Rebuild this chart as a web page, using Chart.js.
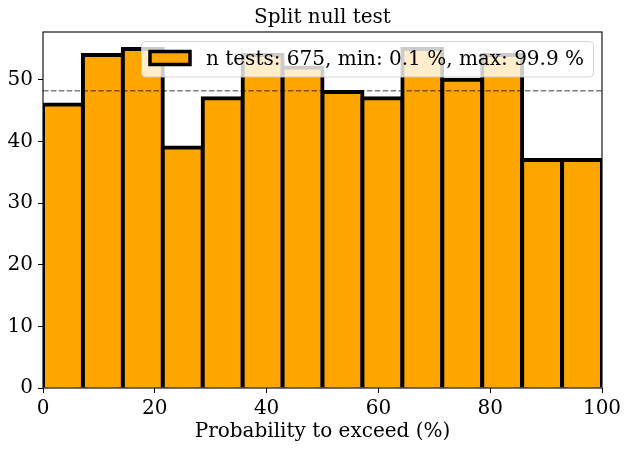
<!DOCTYPE html>
<html>
<head>
<meta charset="utf-8">
<script src="https://cdn.jsdelivr.net/npm/chart.js@4.4.1/dist/chart.umd.min.js"></script>
<style>
  html, body { margin: 0; padding: 0; background: #fff; }
  #wrap { width: 631px; height: 450px; }
</style>
</head>
<body>
<div id="wrap"><canvas id="hist"></canvas></div>
<script>
// histogram of probability-to-exceed values, 14 equal bins on [0, 100]
const binStart = 0;
const binEnd = 100;
const counts = [46, 54, 55, 39, 47, 54, 52, 48, 47, 55, 50, 54, 37, 37];
const xTicks = [0, 20, 40, 60, 80, 100];
const yTicks = [0, 10, 20, 30, 40, 50];
const legendLabel = 'n tests: 675, min: 0.1 %, max: 99.9 %';

const binWidth = (binEnd - binStart) / counts.length;
const points = counts.map((c, i) => ({ x: binStart + (i + 0.5) * binWidth, y: c }));
const meanCount = counts.reduce((a, b) => a + b, 0) / counts.length;
const yMax = Math.max(...counts) * 1.05;

const serif = "'DejaVu Serif', 'Liberation Serif', serif";

// frame, mean line and legend drawn on top of the bars
const overlay = {
  id: 'overlay',
  afterDatasetsDraw(chart) {
    const ctx = chart.ctx;
    const area = chart.chartArea;
    const y = chart.scales.y.getPixelForValue(meanCount);

    ctx.save();
    ctx.strokeStyle = 'rgba(0,0,0,0.5)';
    ctx.lineWidth = 1.5;
    ctx.setLineDash([5.5, 2.4]);
    ctx.beginPath();
    ctx.moveTo(area.left, y);
    ctx.lineTo(area.right, y);
    ctx.stroke();
    ctx.setLineDash([]);

    ctx.strokeStyle = '#000';
    ctx.lineWidth = 1.1;
    ctx.strokeRect(area.left, area.top, area.right - area.left, area.bottom - area.top);

    // legend box
    const bx = 141.5, by = 41.5, bw = 452, bh = 35.5;
    ctx.beginPath();
    ctx.roundRect(bx, by, bw, bh, 4);
    ctx.fillStyle = 'rgba(255,255,255,0.8)';
    ctx.fill();
    ctx.strokeStyle = 'rgba(204,204,204,0.8)';
    ctx.lineWidth = 1;
    ctx.stroke();

    ctx.fillStyle = '#FFA500';
    ctx.fillRect(150, 51.5, 40, 13);
    ctx.strokeStyle = '#000';
    ctx.lineWidth = 3.5;
    ctx.strokeRect(150, 51.5, 40, 13);

    ctx.fillStyle = '#000';
    ctx.font = '20px ' + serif;
    ctx.textBaseline = 'alphabetic';
    ctx.textAlign = 'left';
    ctx.fillText(legendLabel, 206, 65);
    ctx.restore();
  }
};

new Chart(document.getElementById('hist'), {
  type: 'bar',
  data: {
    datasets: [{
      data: points,
      backgroundColor: '#FFA500',
      borderColor: '#000',
      borderWidth: { top: 4, left: 4, right: 4, bottom: 0 },
      borderSkipped: 'start',
      inflateAmount: 2,
      barPercentage: 1,
      categoryPercentage: 1
    }]
  },
  options: {
    responsive: true,
    maintainAspectRatio: false,
    animation: false,
    layout: { padding: { left: 0, right: 29, top: 0, bottom: 0 } },
    plugins: {
      legend: { display: false },
      tooltip: { enabled: false },
      title: {
        display: true,
        fullSize: false,
        text: 'Split null test',
        color: '#000',
        font: { family: serif, size: 20, weight: 'normal' },
        padding: { top: 6, bottom: 2 }
      }
    },
    scales: {
      x: {
        type: 'linear',
        min: binStart,
        max: binEnd,
        offset: false,
        afterBuildTicks: s => { s.ticks = xTicks.map(v => ({ value: v })); },
        afterFit: s => { s.height = 62; },
        grid: { drawOnChartArea: false, offset: false, color: '#000', tickLength: 5, tickWidth: 1 },
        border: { display: false },
        ticks: { color: '#000', padding: 4, maxRotation: 0, font: { family: serif, size: 20 } },
        title: {
          display: true,
          text: 'Probability to exceed (%)',
          color: '#000',
          font: { family: serif, size: 20 },
          padding: { top: 0, bottom: 6 }
        }
      },
      y: {
        min: 0,
        max: yMax,
        afterBuildTicks: s => { s.ticks = yTicks.map(v => ({ value: v })); },
        afterFit: s => { s.width = 43; },
        grid: { drawOnChartArea: false, color: '#000', tickLength: 5, tickWidth: 1 },
        border: { display: false },
        ticks: { color: '#000', padding: 5, font: { family: serif, size: 20 } }
      }
    }
  },
  plugins: [overlay]
});
</script>
</body>
</html>
